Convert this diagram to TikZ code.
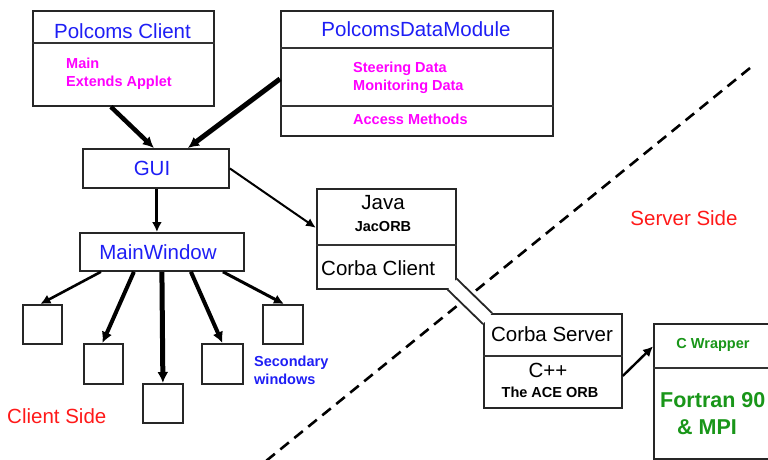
\documentclass[tikz,border=0pt]{standalone}
\usepackage{fontspec}
\setmainfont{Liberation Sans}
\usetikzlibrary{calc,arrows.meta}

\definecolor{lblblue}{RGB}{30,30,245}
\definecolor{lblmag}{RGB}{255,0,255}
\definecolor{lblgreen}{RGB}{25,150,25}
\definecolor{lblred}{RGB}{255,25,25}

\tikzset{
  box/.style={draw=black!85, line width=1.8pt, anchor=north west, inner sep=0pt, fill=white},
  divider/.style={draw=black!80, line width=1.4pt},
  big/.style={inner sep=0pt, font=\fontsize{20.5}{24}\selectfont},
  small/.style={inner sep=0pt, align=left, font=\fontsize{14.5}{18}\selectfont\bfseries},
  heavy/.style={line width=4.5pt, -{Latex[length=11pt,width=11pt]}},
  medium/.style={line width=3pt, -{Latex[length=10pt,width=10pt]}},
  light/.style={line width=2pt, -{Latex[length=10pt,width=9pt]}},
  sideline/.style={line width=2.6pt, dash pattern=on 11pt off 7pt},
}

\begin{document}
\begin{tikzpicture}[x=1pt,y=-1pt]
\clip (0,0) rectangle (768,459);
\useasboundingbox (0,0) rectangle (768,459);

% client / server boundary
\coordinate (bndtop) at (750,68);
\coordinate (bndbot) at (266,461);
\draw[sideline] (bndtop) -- (bndbot);

% boxes
\node[box, minimum width=181, minimum height=95] (client) at (32,10) {};
\draw[divider] (client.west |- 0,43) -- (client.east |- 0,43);

\node[box, minimum width=272, minimum height=125] (data) at (280,10) {};
\draw[divider] (data.west |- 0,48) -- (data.east |- 0,48);
\draw[divider] (data.west |- 0,106) -- (data.east |- 0,106);

\node[box, minimum width=146, minimum height=39] (gui) at (82,148) {};
\node[box, minimum width=164, minimum height=38] (mw) at (79,232) {};

\node[box, minimum width=39, minimum height=39] (sq1) at (22,304) {};
\node[box, minimum width=39, minimum height=40] (sq2) at (83,343) {};
\node[box, minimum width=40, minimum height=39] (sq3) at (142,383) {};
\node[box, minimum width=41, minimum height=40] (sq4) at (201,343) {};
\node[box, minimum width=40, minimum height=39] (sq5) at (262,304) {};

\node[box, minimum width=139, minimum height=100] (java) at (316,188) {};
\draw[divider] (java.west |- 0,245) -- (java.east |- 0,245);

\node[box, minimum width=138, minimum height=94] (server) at (483,313) {};
\draw[divider] (server.west |- 0,356) -- (server.east |- 0,356);

\node[box, minimum width=145, minimum height=135] (fortran) at (653,323) {};
\draw[divider] (fortran.west |- 0,368) -- (fortran.east |- 0,368);

% channel joining the Corba client and server
\fill[white] ($(java.south east)+(-9,0)$) -- ($(java.south east)+(0,-11)$)
  -- ($(server.north west)+(9,0)$) -- ($(server.north west)+(0,11)$) -- cycle;
\draw[black!85, line width=1.8pt] ($(java.south east)+(0,-11)$) -- ($(server.north west)+(9,0)$);
\draw[black!85, line width=1.8pt] ($(java.south east)+(-9,0)$) -- ($(server.north west)+(0,11)$);

% arrows
\draw[heavy] ($(client.south)+(-12.5,0)$) -- ($(gui.north)+(-2,0)$);
\draw[heavy, line width=5pt] ($(data.west)+(0,5.5)$) -- ($(gui.north)+(32,0)$);
\draw[medium] ($(gui.south)+(1,0)$) -- ($(mw.north)+(-5,0)$);
\draw[light] (gui.east) -- ($(java.west)+(0,-11)$);

\draw[medium, line width=2.6pt] ($(mw.south)+(-61,0)$) -- ($(sq1.north)+(-2,0)$);
\draw[heavy, line width=4pt] ($(mw.south)+(-28,0)$) -- ($(sq2.north)+(-1,0)$);
\draw[heavy, line width=5pt] (mw.south) -- (sq3.north);
\draw[heavy, line width=4pt] ($(mw.south)+(29,0)$) -- (sq4.north);
\draw[medium, line width=3pt] ($(mw.south)+(61,0)$) -- ($(sq5.north)+(1,0)$);

\draw[medium, line width=2.4pt] ($(server.east)+(0,15)$) -- ($(fortran.west)+(0,-45)$);

% labels
\node[big, text=lblblue] (tclient) at (122.5,31) {Polcoms Client};
\node[small, text=lblmag, anchor=west] (tmain) at (66,74) {Main\\Extends Applet};

\node[big, text=lblblue] (tdata) at (416,29) {PolcomsDataModule};
\node[small, text=lblmag, anchor=west] (tsteer) at (353,77.5) {Steering Data\\Monitoring Data};
\node[small, text=lblmag, anchor=west] (taccess) at (353,119) {Access Methods};

\node[big, text=lblblue] (tgui) at (152,168) {GUI};
\node[big, text=lblblue] (tmw) at (158,252) {MainWindow};
\node[small, text=lblblue, anchor=west] (tsec) at (254,370) {Secondary\\windows};
\node[big, text=lblred, anchor=west] (tcside) at (7,416) {Client Side};

\node[big] (tjava) at (383,203) {Java};
\node[small] (tjac) at (383,227) {JacORB};
\node[big, anchor=west] (tcc) at (321,268) {Corba Client};

\node[big] (tcs) at (552,334) {Corba Server};
\node[big] (tcpp) at (548,370) {C++};
\node[small] (tace) at (550,392) {The ACE ORB};

\node[small, text=lblgreen] (tcw) at (713,345) {C Wrapper};
\node[inner sep=0pt, text=lblgreen, font=\fontsize{21.5}{24}\selectfont\bfseries, anchor=west] (tf90) at (660,400) {Fortran 90};
\node[inner sep=0pt, text=lblgreen, font=\fontsize{21.5}{24}\selectfont\bfseries, anchor=west] (tmpi) at (677,427) {\& MPI};

\node[big, text=lblred] (tsside) at (684,218) {Server Side};
\end{tikzpicture}
\end{document}
